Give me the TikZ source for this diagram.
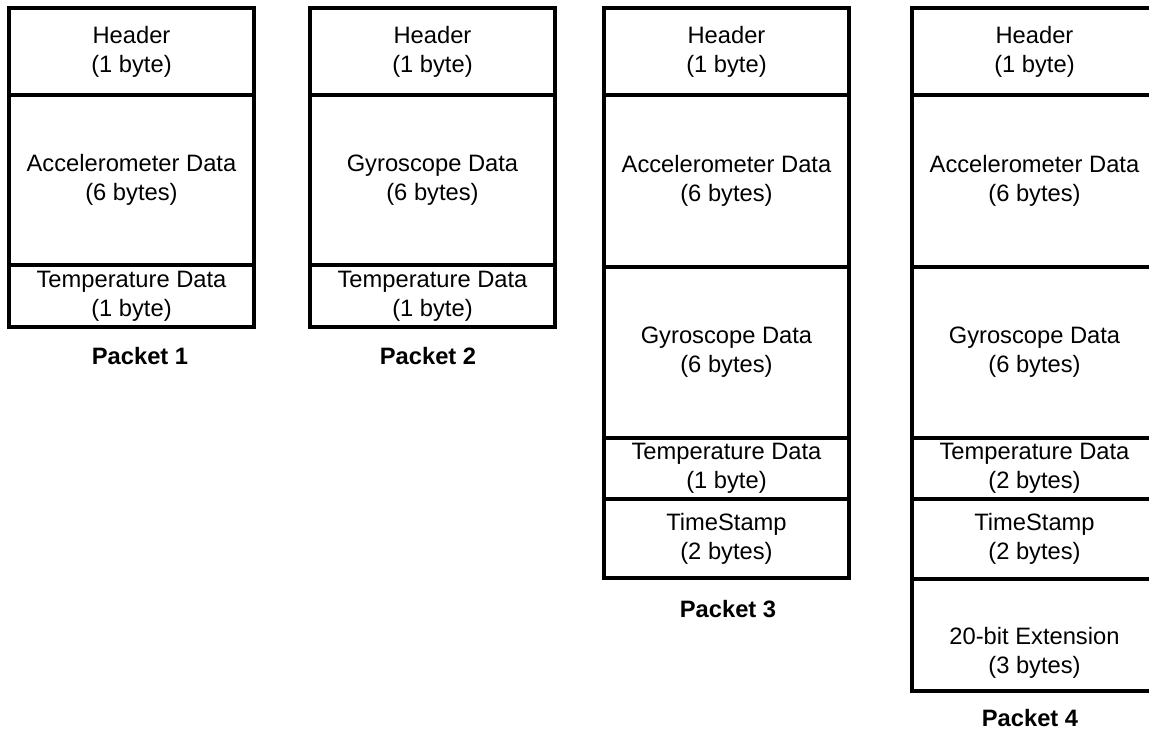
\documentclass[tikz,border=0pt]{standalone}
\usepackage{fontspec}
\setmainfont{Liberation Sans}
\tikzset{
  field/.style={draw, line width=2pt, minimum width=4.9cm, align=center,
    anchor=north west, outer sep=0pt, inner sep=0pt,
    font=\fontsize{13.5}{16.5}\selectfont},
  caption/.style={font=\fontsize{13.5}{16.5}\selectfont\bfseries}
}
\begin{document}
\begin{tikzpicture}[x=0.02cm,y=-0.02cm]
    \useasboundingbox (0, 0) rectangle (1149, 732);

    % Packet 1
    \node[field, minimum height=1.74cm] (p1head) at (9, 8) {Header\\(1 byte)};
    \node[field, minimum height=3.4cm] (p1acc) at (9, 95) {Accelerometer Data\\(6 bytes)};
    \node[field, minimum height=1.24cm] (p1temp) at (9, 265) {Temperature Data\\(1 byte)};
    \node[caption] (p1name) at (140, 356) {Packet 1};

    % Packet 2
    \node[field, minimum height=1.74cm] (p2head) at (310, 8) {Header\\(1 byte)};
    \node[field, minimum height=3.4cm] (p2gyro) at (310, 95) {Gyroscope Data\\(6 bytes)};
    \node[field, minimum height=1.24cm] (p2temp) at (310, 265) {Temperature Data\\(1 byte)};
    \node[caption] (p2name) at (428, 356) {Packet 2};

    % Packet 3
    \node[field, minimum height=1.74cm] (p3head) at (604, 8) {Header\\(1 byte)};
    \node[field, minimum height=3.44cm] (p3acc) at (604, 95) {Accelerometer Data\\(6 bytes)};
    \node[field, minimum height=3.42cm] (p3gyro) at (604, 267) {Gyroscope Data\\(6 bytes)};
    \node[field, minimum height=1.22cm] (p3temp) at (604, 438) {Temperature Data\\(1 byte)};
    \node[field, minimum height=1.58cm] (p3time) at (604, 499) {TimeStamp\\(2 bytes)};
    \node[caption] (p3name) at (728, 609) {Packet 3};

    % Packet 4
    \node[field, minimum height=1.74cm] (p4head) at (912, 8) {Header\\(1 byte)};
    \node[field, minimum height=3.44cm] (p4acc) at (912, 95) {Accelerometer Data\\(6 bytes)};
    \node[field, minimum height=3.42cm] (p4gyro) at (912, 267) {Gyroscope Data\\(6 bytes)};
    \node[field, minimum height=1.22cm] (p4temp) at (912, 438) {Temperature Data\\(2 bytes)};
    \node[field, minimum height=1.6cm] (p4time) at (912, 499) {TimeStamp\\(2 bytes)};
    \node[field, minimum height=2.24cm] (p4ext) at (912, 579) {\mbox{}\\[14pt]20-bit Extension\\(3 bytes)};
    \node[caption] (p4name) at (1030, 718) {Packet 4};
  \end{tikzpicture}
\end{document}
